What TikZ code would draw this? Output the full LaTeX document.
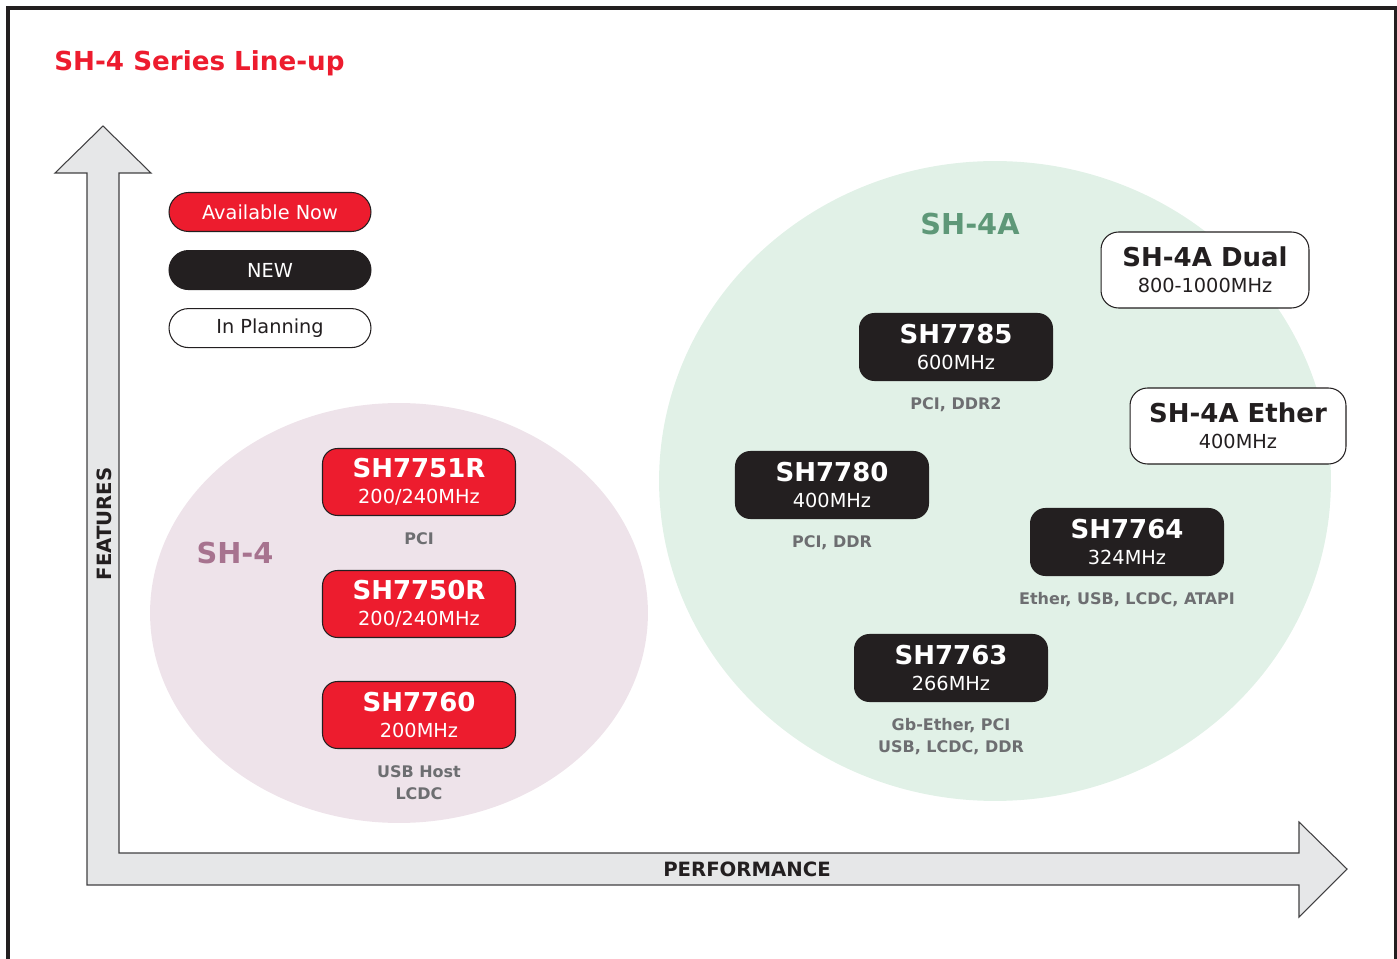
\documentclass[tikz,border=0pt]{standalone}
\usepackage{fontspec}
\setmainfont{DejaVu Sans}
\usepackage{xcolor}
\definecolor{cRed}{HTML}{ED1C2E}
\definecolor{cInk}{HTML}{231F20}
\definecolor{cAxis}{HTML}{E6E7E8}
\definecolor{cAxisLine}{HTML}{414042}
\definecolor{cNote}{HTML}{6D6E71}
\definecolor{cPink}{HTML}{EEE3EA}
\definecolor{cMauve}{HTML}{A7738F}
\definecolor{cMint}{HTML}{E1F1E7}
\definecolor{cSage}{HTML}{5E9878}
\usepackage{tikz}
\usetikzlibrary{positioning,shapes.geometric}
\tikzset{
  chip-box/.style={draw=cInk,line width=0.6pt,rounded corners=3mm,
    minimum width=3.86cm,minimum height=1.34cm,inner sep=0pt,
    align=center,font=\fontsize{11}{15}\selectfont},
  chip-now/.style={fill=cRed,text=white},
  chip-new/.style={fill=cInk,text=white},
  chip-plan/.style={fill=white,text=cInk,rounded corners=3.5mm,
    minimum height=1.52cm},
  legend-pill/.style={draw=cInk,line width=0.6pt,rounded corners=3.9mm,
    minimum width=4.04cm,minimum height=0.78cm,inner sep=0pt,
    font=\fontsize{11}{13}\selectfont},
  chip-note/.style={text=cNote,inner sep=0pt,align=center,
    font=\bfseries\fontsize{9.1}{12.5}\selectfont},
  zone/.style={ellipse,draw=none,inner sep=0pt},
  zone-label/.style={inner sep=0pt,font=\bfseries\fontsize{16.4}{18}\selectfont},
  axis-label/.style={inner sep=0pt,text=cInk,font=\bfseries\fontsize{11.2}{13}\selectfont},
}
% name on the first line, clock on the second
\newcommand{\chiptext}[2]{{\bfseries\fontsize{14.8}{15}\selectfont #1}\\#2}

\begin{document}
\begin{tikzpicture}[x=0.02cm,y=-0.02cm,node distance=3.2mm]
  \useasboundingbox (0,0) rectangle (1397,959);
  \draw[cInk,line width=2pt] (8,959) -- (8,8) -- (1395.5,8) -- (1395.5,959);
  \node[anchor=base west,inner sep=0pt,text=cRed,font=\bfseries\fontsize{14.9}{16}\selectfont]
    (title) at (54,71) {SH-4 Series Line-up};

  % zones
  \node[zone,fill=cPink,minimum width=9.96cm,minimum height=8.4cm]   (sh4-zone)  at (399,613) {};
  \node[zone,fill=cMint,minimum width=13.44cm,minimum height=12.8cm] (sh4a-zone) at (995,481) {};
  \node[zone-label,text=cMauve] (sh4-label)  at (235,553) {SH-4};
  \node[zone-label,text=cSage]  (sh4a-label) at (970,224) {SH-4A};

  % axes
  \draw[fill=cAxis,draw=cAxisLine,line width=0.6pt] (87,885) -- (87,173) -- (55,173) -- (103,126)
    -- (151,173) -- (119,173) -- (119,853) -- (1299,853) -- (1299,822) -- (1347,869)
    -- (1299,917) -- (1299,885) -- cycle;
  \node[axis-label,rotate=90] (features)    at (104,524) {FEATURES};
  \node[axis-label]           (performance) at (747,869) {PERFORMANCE};

  % legend
  \node[legend-pill,fill=cRed,text=white]                        (lg-now)  at (270,212) {Available Now};
  \node[legend-pill,fill=cInk,text=white,below=3.6mm of lg-now]  (lg-new)  {NEW};
  \node[legend-pill,fill=white,text=cInk,below=3.6mm of lg-new]  (lg-plan) {In Planning};

  % SH-4
  \node[chip-box,chip-now] (sh7751r) at (419,482) {\chiptext{SH7751R}{200/240MHz}};
  \node[chip-box,chip-now] (sh7750r) at (419,604) {\chiptext{SH7750R}{200/240MHz}};
  \node[chip-box,chip-now] (sh7760)  at (419,715) {\chiptext{SH7760}{200MHz}};
  \node[chip-note,below=of sh7751r] (sh7751r-note) {PCI};
  \node[chip-note,below=of sh7760]  (sh7760-note)  {USB Host\\LCDC};

  % SH-4A
  \node[chip-box,chip-new] (sh7785) at (956,347)  {\chiptext{SH7785}{600MHz}};
  \node[chip-box,chip-new] (sh7780) at (832,485)  {\chiptext{SH7780}{400MHz}};
  \node[chip-box,chip-new] (sh7764) at (1127,542) {\chiptext{SH7764}{324MHz}};
  \node[chip-box,chip-new] (sh7763) at (951,668)  {\chiptext{SH7763}{266MHz}};
  \node[chip-note,below=of sh7785] (sh7785-note) {PCI, DDR2};
  \node[chip-note,below=of sh7780] (sh7780-note) {PCI, DDR};
  \node[chip-note,below=of sh7764] (sh7764-note) {Ether, USB, LCDC, ATAPI};
  \node[chip-note,below=of sh7763] (sh7763-note) {Gb-Ether, PCI\\USB, LCDC, DDR};
  \node[chip-box,chip-plan,minimum width=4.16cm] (sh4a-dual)  at (1205,270) {\chiptext{SH-4A Dual}{800-1000MHz}};
  \node[chip-box,chip-plan,minimum width=4.32cm] (sh4a-ether) at (1238,426) {\chiptext{SH-4A Ether}{400MHz}};
\end{tikzpicture}
\end{document}
